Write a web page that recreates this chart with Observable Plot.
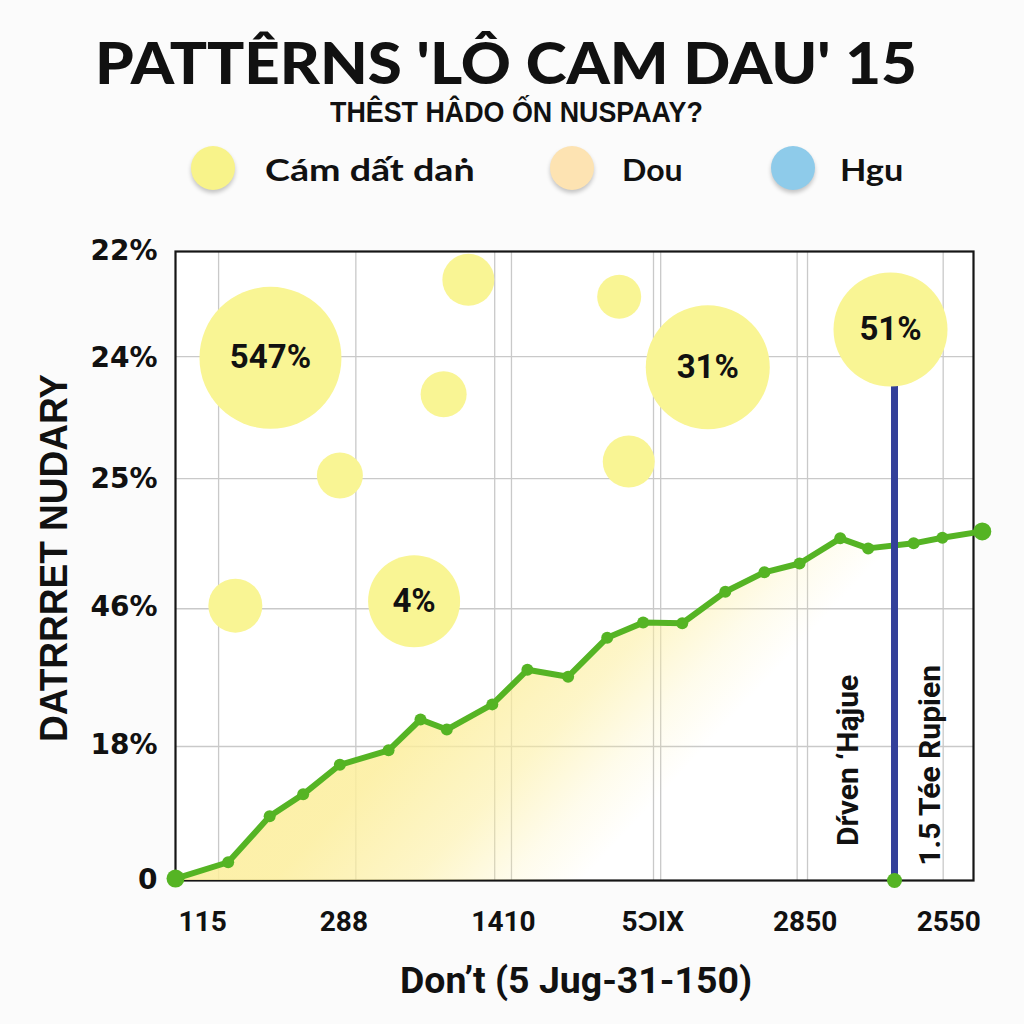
<!DOCTYPE html>
<html>
<head>
<meta charset="utf-8">
<script src="https://cdn.jsdelivr.net/npm/d3@7"></script>
<script src="https://cdn.jsdelivr.net/npm/@observablehq/plot@0.6"></script>
<style>
  html, body { margin: 0; padding: 0; background: #fbfbfb; }
  body { width: 1024px; height: 1024px; overflow: hidden; position: relative; }
  #header { position: relative; height: 225px; }
  .t { position: absolute; white-space: nowrap; line-height: 1; color: #111; }
  #title { font-family: Lato, sans-serif; font-weight: 900; font-size: 58px; }
  #subtitle { font-family: "Liberation Sans Narrow", sans-serif; font-weight: 700; font-size: 29px; }
  .leg { font-family: Lato, sans-serif; font-weight: 700; font-size: 31px; }
  .swatch { position: absolute; width: 44px; height: 44px; border-radius: 50%; box-shadow: 0 3px 4px rgba(0,0,0,0.22); }
  #ytitle { font-family: "Liberation Sans", sans-serif; font-weight: 700; font-size: 38px; }
  #xtitle { font-family: Roboto, sans-serif; font-weight: 700; font-size: 37px; }
  #chart { position: absolute; left: 0; top: 225px; }
</style>
</head>
<body>
<div id="header"></div>
<div id="chart"></div>
<script>
// ---------- data ----------
const titleText = "PATTÊRNS 'LÔ CAM DAU' 15";
const subtitleText = "THÊST HÂDO ỐN NUSPAAY?";
const legendLabels = ["Cám dất daṅ", "Dou", "Hgu"];
const legendColors = ["#f8f38a", "#fde3b2", "#8ecbea"];
const yAxisTitle = "DATRRRET NUDARY";
const xAxisTitle = "Don’t (5 Jug-31-150)";

const lineX = [0, 6.6, 11.8, 16.0, 20.6, 26.7, 30.7, 34.0, 39.7, 44.1, 49.2, 54.1, 58.6, 63.5, 68.9, 73.8, 78.2, 83.3, 86.8, 92.5, 96.1, 101.1];
const lineY = [0.3, 2.9, 10.2, 13.7, 18.4, 20.7, 25.6, 24.0, 28.0, 33.5, 32.4, 38.6, 41.0, 40.9, 45.9, 49.0, 50.4, 54.4, 52.8, 53.6, 54.5, 55.5];

const bubbleX = [11.9, 36.7, 33.6, 20.6, 7.5, 29.9, 55.6, 66.7, 56.8, 89.6];
const bubbleY = [83.1, 95.5, 77.3, 64.4, 43.7, 44.4, 92.8, 81.6, 66.6, 87.6];
const bubbleSize = [71, 26, 23, 23, 27, 46, 22, 62, 26, 57];
const bubbleLabel = ["547%", "", "", "", "", "4%", "", "31%", "", "51%"];

const markerX = 90.1;            // vertical marker position
const markerTop = 87.6;          // reaches the 51% bubble
const noteX = [84.3, 94.6];
const noteY = [19.1, 18.3];
const noteText = ["Dŕven ‘Hąjue", "1.5 Tée Rupien"];

const yTickValues = [100, 83.1, 63.9, 43.4, 21.5, 0];
const yTickLabels = ["22%", "24%", "25%", "46%", "18%", "0"];
const yGrid = [21.3, 43.2, 63.9, 83.3];

const xTickValues = [3.4, 21.1, 41.1, 59.8, 78.9, 96.9];
const xTickLabels = ["115", "288", "1410", "5ƆIX", "2850", "2550"];
const xGrid = [5.4, 22.6, 40.0, 42.1, 59.9, 60.8, 77.9, 79.2, 96.2];

// ---------- tables ----------
const line = lineX.map((x, i) => ({x, y: lineY[i]}));
const ends = [line[0], line[line.length - 1]];
const bubbles = bubbleX.map((x, i) => ({x, y: bubbleY[i], r: bubbleSize[i], label: bubbleLabel[i]}));
const notes = noteX.map((x, i) => ({x, y: noteY[i], text: noteText[i]}));
const yTicks = yTickValues.map((v, i) => ({v, label: yTickLabels[i]}));
const xTicks = xTickValues.map((v, i) => ({v, label: xTickLabels[i]}));

const green = "#55b424";
const bubbleFill = "#f9f594";

// ---------- header (html) ----------
const header = document.getElementById("header");
function place(parent, cls, id, text, left, cy, width, rotate) {
  const el = document.createElement("div");
  el.className = "t " + cls;
  if (id) el.id = id;
  el.textContent = text;
  parent.appendChild(el);
  const ow = el.offsetWidth, oh = el.offsetHeight;
  const s = width / ow;
  if (rotate) {
    el.style.left = (left - ow / 2) + "px";
    el.style.top = (cy - oh / 2) + "px";
    el.style.transformOrigin = "50% 50%";
    el.style.transform = `rotate(-90deg) scaleX(${s})`;
  } else {
    el.style.left = left + "px";
    el.style.top = (cy - oh / 2) + "px";
    el.style.transformOrigin = "0 50%";
    el.style.transform = `scaleX(${s})`;
  }
  return el;
}
place(header, "", "title", titleText, 95, 62, 822);
place(header, "", "subtitle", subtitleText, 330, 112, 373);
const swatchX = [213, 572, 793];
const labelLeft = [265, 622, 840];
const labelWidth = [210, 61, 63];
legendLabels.forEach((lab, i) => {
  const sw = document.createElement("div");
  sw.className = "swatch";
  sw.style.left = (swatchX[i] - 22) + "px";
  sw.style.top = (168 - 22) + "px";
  sw.style.background = legendColors[i];
  header.appendChild(sw);
  place(header, "leg", null, lab, labelLeft[i], 169, labelWidth[i]);
});
place(document.body, "", "ytitle", yAxisTitle, 54, 558, 368, true);
place(document.body, "", "xtitle", xAxisTitle, 400, 980, 352);

// ---------- chart ----------
const chart = Plot.plot({
  width: 1024,
  height: 799,
  marginLeft: 175,
  marginRight: 51,
  marginTop: 26,
  marginBottom: 144,
  x: {domain: [0, 100], axis: null},
  y: {domain: [0, 100], axis: null},
  r: {type: "identity"},
  style: {background: "transparent", overflow: "visible"},
  marks: [
    Plot.frame({fill: "white"}),
    Plot.ruleX(xGrid, {stroke: "#c9c9c9", strokeWidth: 1.3}),
    Plot.ruleY(yGrid, {stroke: "#c9c9c9", strokeWidth: 1.3}),
    Plot.frame({stroke: "#151515", strokeWidth: 2.2}),
    Plot.areaY(line, {x: "x", y: "y", fill: "url(#fadeGrad)"}),
    Plot.line(line, {x: "x", y: "y", stroke: green, strokeWidth: 6, strokeLinejoin: "round", strokeLinecap: "round"}),
    Plot.dot(line, {x: "x", y: "y", r: 6, fill: green}),
    Plot.dot(ends, {x: "x", y: "y", r: 9, fill: green}),
    Plot.ruleX([markerX], {y1: 0, y2: markerTop, stroke: "#33409a", strokeWidth: 7}),
    Plot.dot([markerX], {x: d => d, y: 0, r: 7.5, fill: green}),
    Plot.dot(bubbles, {x: "x", y: "y", r: "r", fill: bubbleFill, ariaLabel: "bubbles"}),
    Plot.text(bubbles, {x: "x", y: "y", text: "label", fontFamily: "Roboto, sans-serif", fontWeight: 700, fontSize: 33, fill: "#111"}),
    Plot.text(notes, {x: "x", y: "y", text: "text", rotate: -90, fontFamily: "Roboto, sans-serif", fontWeight: 700, fontSize: 30, fill: "#111"}),
    Plot.text(yTicks, {x: 0, y: "v", text: "label", textAnchor: "end", dx: -18, fontFamily: "DejaVu Sans, sans-serif", fontWeight: 700, fontSize: 28, fill: "#111"}),
    Plot.text(xTicks, {x: "v", y: 0, text: "label", dy: 42, fontFamily: "Roboto, sans-serif", fontWeight: 700, fontSize: 28, fill: "#111"})
  ]
});

// gradient for the area and soft shadow for bubbles
const svg = d3.select(chart);
const defs = svg.insert("defs", ":first-child");
const grad = defs.append("linearGradient").attr("id", "fadeGrad")
  .attr("x1", 0).attr("y1", 0).attr("x2", 1).attr("y2", 0.4);
[[0, 0.95], [0.45, 0.85], [0.6, 0.55], [0.7, 0.2], [0.78, 0]].forEach(([o, a]) =>
  grad.append("stop").attr("offset", o).attr("stop-color", "#fcee9c").attr("stop-opacity", a));
const f = defs.append("filter").attr("id", "shadow").attr("x", "-30%").attr("y", "-30%").attr("width", "160%").attr("height", "160%");
f.append("feDropShadow").attr("dx", 0).attr("dy", 3).attr("stdDeviation", 3).attr("flood-color", "#000").attr("flood-opacity", 0.2);
svg.selectAll('g[aria-label="bubbles"] circle').attr("filter", "url(#shadow)");

document.getElementById("chart").appendChild(chart);
</script>
</body>
</html>
